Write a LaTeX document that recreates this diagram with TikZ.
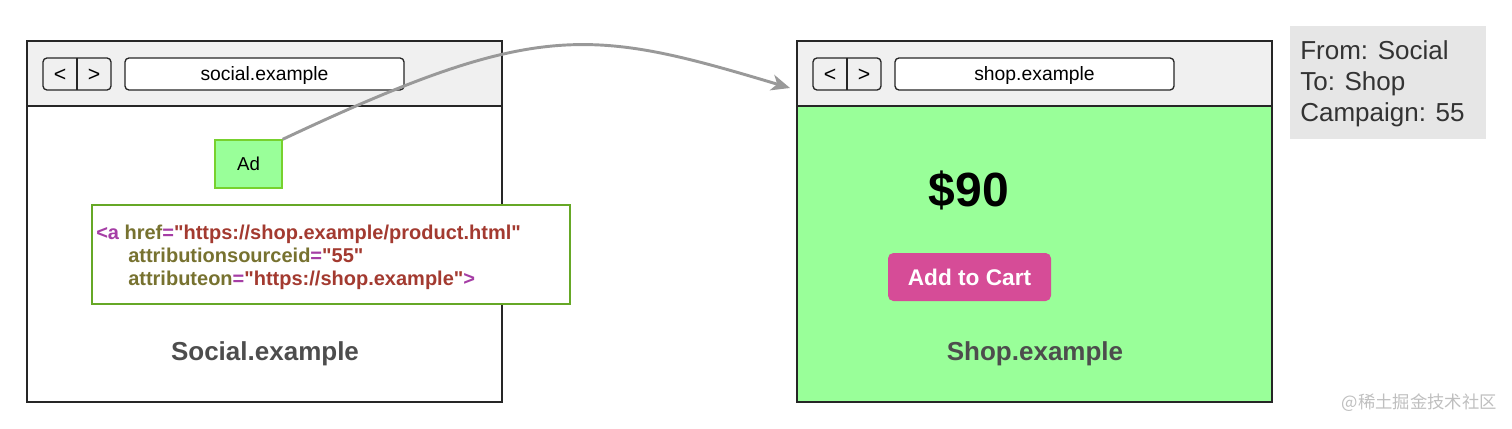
\documentclass[tikz,border=0pt]{standalone}
\usepackage{fontspec}
\setmainfont{Liberation Sans}
\newfontfamily\codefont{Liberation Sans}
\newfontfamily\cjkfont{Noto Sans CJK SC}
\usetikzlibrary{positioning,arrows.meta}

\definecolor{barfill}{HTML}{F0F0F0}
\definecolor{pagegreen}{HTML}{99FF99}
\definecolor{adgreen}{HTML}{77D12E}
\definecolor{codegreen}{HTML}{66A826}
\definecolor{tagpurple}{HTML}{A53DA5}
\definecolor{attrolive}{HTML}{777230}
\definecolor{strred}{HTML}{A33A30}
\definecolor{cartpink}{HTML}{D64C97}
\definecolor{titlegray}{HTML}{4D4D4D}
\definecolor{notegray}{HTML}{E6E6E6}
\definecolor{flowgray}{HTML}{999999}

\tikzset{
  win/.style={draw=black!85, line width=1.2pt},
  navbtn/.style={draw=black!85, line width=1pt, rounded corners=3pt, fill=barfill},
  urlbar/.style={draw=black!85, line width=1pt, rounded corners=3pt, fill=white},
  urltext/.style={font=\fontsize{14.5}{16}\selectfont},
  navtext/.style={font=\fontsize{16}{18}\selectfont},
  sitename/.style={font=\fontsize{19.5}{22}\selectfont\bfseries, text=titlegray},
  codeline/.style={anchor=base west, inner sep=0pt, font=\codefont\fontsize{15}{17}\selectfont\bfseries},
}

\begin{document}
\begin{tikzpicture}[x=0.75pt,y=-0.75pt]
\useasboundingbox (0,0) rectangle (1512,428);

% social window
\fill[barfill] (27,41) rectangle (502,106);
\draw[win] (27,106) -- (502,106);
\draw[win] (27,41) rectangle (502,402);
\draw[navbtn] (43,58) rectangle (111,90);
\draw[line width=1pt, black!85] (77,58) -- (77,90);
\node[navtext] (sback) at (60,75) {<};
\node[navtext] (sfwd) at (94,75) {>};
\draw[urlbar] (125,58) rectangle (404,90);
\node[urltext] (surl) at (264.5,76) {social.example};

\node[draw=adgreen, fill=pagegreen, line width=1pt, minimum width=50.25pt, minimum height=36pt,
      font=\fontsize{14}{16}\selectfont] (ad) at (248.5,164) {Ad};

\draw[codegreen, line width=1pt, fill=white] (92,205) rectangle (570,304);
\node[codeline] (code1) at (96,239) {\textcolor{tagpurple}{<a} \textcolor{attrolive}{href}\textcolor{tagpurple}{=}\textcolor{strred}{"https://shop.example/product.html"}};
\node[codeline] (code2) at (128,262) {\textcolor{attrolive}{attributionsourceid}\textcolor{tagpurple}{=}\textcolor{strred}{"55"}};
\node[codeline] (code3) at (128,285) {\textcolor{attrolive}{attributeon}\textcolor{tagpurple}{=}\textcolor{strred}{"https://shop.example"}\textcolor{tagpurple}{>}};

\node[sitename] (social) at (265,354) {Social.example};

% shop window
\fill[barfill] (797,41) rectangle (1272,106);
\fill[pagegreen] (797,106) rectangle (1272,402);
\draw[win] (797,106) -- (1272,106);
\draw[win] (797,41) rectangle (1272,402);
\draw[navbtn] (813,58) rectangle (881,90);
\draw[line width=1pt, black!85] (847,58) -- (847,90);
\node[navtext] (hback) at (830,75) {<};
\node[navtext] (hfwd) at (864,75) {>};
\draw[urlbar] (895,58) rectangle (1174,90);
\node[urltext] (hurl) at (1034.5,76) {shop.example};

\node[font=\fontsize{36}{40}\selectfont\bfseries] (price) at (969,190) {\$90};
\node[fill=cartpink, rounded corners=4pt, minimum width=122.25pt, minimum height=36pt, text=white,
      font=\fontsize{17}{19}\selectfont\bfseries] (cart) at (969.5,277) {Add to Cart};
\node[sitename] (shop) at (1035,354) {Shop.example};

% note
\fill[notegray] (1290,26) rectangle (1486,139);
\node[anchor=west, align=left, inner sep=0pt, text=black!80,
      font=\fontsize{19.5}{23.25}\selectfont] (note) at (1300,84) {From: Social\\To: Shop\\Campaign: 55};

\node[anchor=east, inner sep=0pt, text=black!25, font=\cjkfont\fontsize{13}{15}\selectfont] (mark) at (1497,403) {@稀土掘金技术社区};

\coordinate (land) at (790,88);
\draw[flowgray, line width=2.2pt, -{Stealth[length=14pt,width=12pt,inset=4pt]}]
  (ad.north east) .. controls +(255,-120) and +(-200,-60) .. (land);

\end{tikzpicture}
\end{document}
